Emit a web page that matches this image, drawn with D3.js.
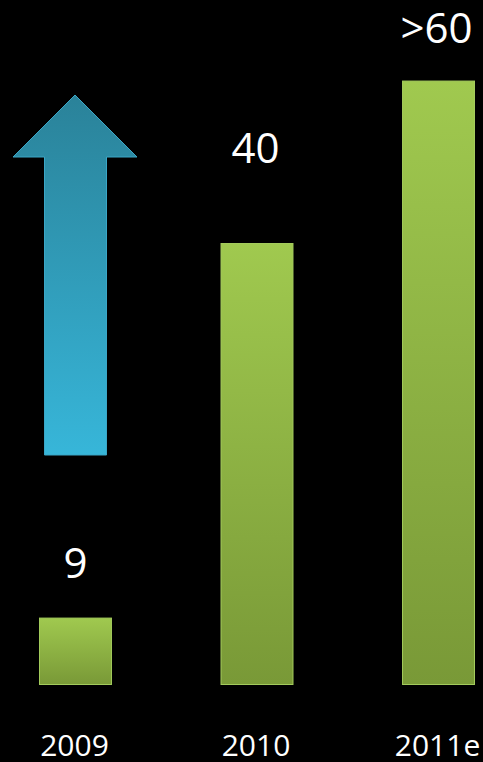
<!DOCTYPE html>
<html><head><meta charset="utf-8">
<script src="https://cdn.jsdelivr.net/npm/d3@7"></script>
<style>html,body{margin:0;padding:0;background:#000;}svg{display:block;}</style>
</head><body>
<script>
const categories = ["2009", "2010", "2011e"];
const labels = ["9", "40", ">60"];
const barValues = [6.1, 40, 54.7];

const W = 483, H = 762;
const svg = d3.select("body").append("svg").attr("width", W).attr("height", H);
svg.append("rect").attr("width", W).attr("height", H).attr("fill", "#000");

const defs = svg.append("defs");
const gg = defs.append("linearGradient").attr("id", "gbar").attr("x1", 0).attr("y1", 0).attr("x2", 0).attr("y2", 1);
gg.append("stop").attr("offset", "0%").attr("stop-color", "#a0c94f");
gg.append("stop").attr("offset", "100%").attr("stop-color", "#799937");
const ga = defs.append("linearGradient").attr("id", "garrow").attr("gradientUnits", "userSpaceOnUse")
  .attr("x1", 0).attr("y1", 95).attr("x2", 0).attr("y2", 455);
ga.append("stop").attr("offset", "0%").attr("stop-color", "#2a8299");
ga.append("stop").attr("offset", "100%").attr("stop-color", "#37b6d9");

const x = d3.scaleBand().domain(categories).range([39, 475]).paddingInner(0.598).paddingOuter(0);
const y = d3.scaleLinear().domain([0, 40]).range([685, 243]);

svg.selectAll("rect.bar").data(categories).enter().append("rect")
  .attr("class", "bar")
  .attr("x", d => x(d) + 0.5)
  .attr("y", (d, i) => y(barValues[i]) + 0.5)
  .attr("width", x.bandwidth() - 1)
  .attr("height", (d, i) => y(0) - y(barValues[i]) - 1)
  .attr("fill", "url(#gbar)")
  .attr("stroke", "#a3cb5c").attr("stroke-width", 1);

const labelOffsets = [40, 80, 38];
const labelShift = [0, -1.5, -2];
svg.selectAll("text.val").data(categories).enter().append("text")
  .attr("class", "val")
  .attr("x", (d, i) => x(d) + x.bandwidth() / 2 + labelShift[i])
  .attr("y", (d, i) => y(barValues[i]) - labelOffsets[i])
  .attr("text-anchor", "middle")
  .attr("font-family", "'Open Sans', 'Noto Sans', sans-serif")
  .attr("font-size", 42)
  .attr("fill", "#fff")
  .text((d, i) => labels[i]);

const xAxis = d3.axisBottom(x).tickSize(0).tickPadding(0);
const ax = svg.append("g").attr("transform", "translate(0,735)").call(xAxis);
ax.select(".domain").remove();
ax.selectAll("text")
  .attr("font-family", "'Open Sans', 'Noto Sans', sans-serif")
  .attr("font-size", 30)
  .attr("fill", "#fff")
  .attr("x", -1)
  .attr("dy", "0.7em");

// arrow
const arrow = d3.path();
arrow.moveTo(75, 95);
arrow.lineTo(137, 157);
arrow.lineTo(106.5, 157);
arrow.lineTo(106.5, 455);
arrow.lineTo(44.5, 455);
arrow.lineTo(44.5, 157);
arrow.lineTo(13, 157);
arrow.closePath();
svg.append("path").attr("d", arrow.toString())
  .attr("fill", "url(#garrow)").attr("stroke", "#3aa6c6").attr("stroke-width", 1);
</script>
</body></html>
